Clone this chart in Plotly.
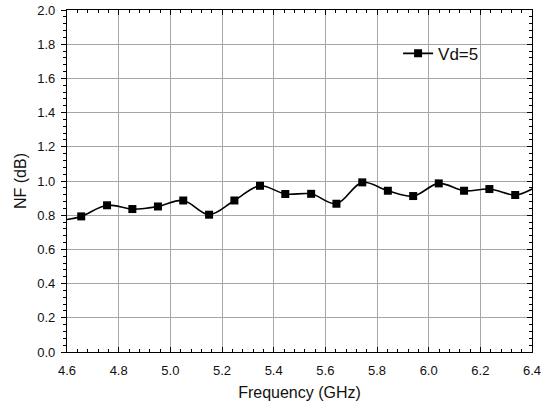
import plotly.graph_objects as go

# Data
freq_markers = [4.655, 4.755, 4.853, 4.952, 5.050, 5.150, 5.248, 5.347, 5.445,
                5.545, 5.643, 5.743, 5.842, 5.940, 6.039, 6.137, 6.235, 6.335]
nf_markers = [0.793, 0.858, 0.836, 0.851, 0.886, 0.803, 0.886, 0.972, 0.924,
              0.925, 0.867, 0.992, 0.943, 0.912, 0.986, 0.943, 0.953, 0.918]
# curve end values at axis edges
freq_start, nf_start = 4.6, 0.775
freq_end, nf_end = 6.4, 0.953

series_name = "Vd=5"
x_title = "Frequency (GHz)"
y_title = "NF (dB)"
x_ticks = [4.6, 4.8, 5.0, 5.2, 5.4, 5.6, 5.8, 6.0, 6.2, 6.4]
y_ticks = [0.0, 0.2, 0.4, 0.6, 0.8, 1.0, 1.2, 1.4, 1.6, 1.8, 2.0]

line_x = [freq_start] + freq_markers + [freq_end]
line_y = [nf_start] + nf_markers + [nf_end]

FONT = "Liberation Sans, Arial, sans-serif"

fig = go.Figure()
fig.add_trace(go.Scatter(x=line_x, y=line_y, mode="lines",
                         line=dict(color="black", width=1.6, shape="spline", smoothing=1.0),
                         showlegend=False, hoverinfo="skip"))
fig.add_trace(go.Scatter(x=freq_markers, y=nf_markers, mode="markers",
                         marker=dict(symbol="square", size=8, color="black"),
                         showlegend=False))
# legend entry
fig.add_trace(go.Scatter(x=[None], y=[None], mode="lines+markers", name=series_name,
                         line=dict(color="black", width=1.6),
                         marker=dict(symbol="square", size=8, color="black")))
# helper trace for mirrored axes
fig.add_trace(go.Scatter(x=freq_markers, y=nf_markers, xaxis="x2", yaxis="y2",
                         mode="markers", marker=dict(opacity=0), showlegend=False,
                         hoverinfo="skip"))

axis_common = dict(showline=True, linecolor="black", linewidth=1.3, automargin=False,
                   zeroline=False, tickcolor="black", tickwidth=1.2)

fig.update_layout(
    width=549, height=411,
    margin=dict(l=67, r=17, t=10, b=58.5),
    paper_bgcolor="white", plot_bgcolor="white",
    font=dict(family=FONT, size=13, color="#111"),
    showlegend=True,
    legend=dict(x=0.712, y=0.872, xanchor="left", yanchor="middle",
                bgcolor="rgba(0,0,0,0)", font=dict(size=17, family=FONT),
                itemwidth=30, tracegroupgap=0),
    xaxis=dict(range=[4.6, 6.4], tickvals=x_ticks, ticktext=[f"{v:.1f}" for v in x_ticks],
               ticks="inside", ticklen=5, showgrid=True, gridcolor="#a6a6a6", gridwidth=1,
               ticklabelstandoff=6,
               minor=dict(ticks="inside", ticklen=3, dtick=0.04, tick0=4.6,
                          tickcolor="black", tickwidth=1, showgrid=False),
               title=dict(text=x_title, font=dict(size=16, family=FONT), standoff=10),
               tickfont=dict(size=13, family=FONT), **axis_common),
    yaxis=dict(range=[0, 2.0], tickvals=y_ticks, ticktext=[f"{v:.1f}" for v in y_ticks],
               ticks="outside", ticklen=5, showgrid=True, gridcolor="#a6a6a6", gridwidth=1,
               ticklabelstandoff=3,
               minor=dict(ticks="outside", ticklen=3, dtick=0.04, tick0=0,
                          tickcolor="black", tickwidth=1, showgrid=False),
               title=dict(text=y_title, font=dict(size=16, family=FONT), standoff=6),
               tickfont=dict(size=13, family=FONT), **axis_common),
    xaxis2=dict(range=[4.6, 6.4], overlaying="x", side="top", tickvals=x_ticks,
                ticks="inside", ticklen=5, showticklabels=False, showgrid=False,
                minor=dict(ticks="inside", ticklen=3, dtick=0.04, tick0=4.6,
                           tickcolor="black", tickwidth=1, showgrid=False),
                **axis_common),
    yaxis2=dict(range=[0, 2.0], overlaying="y", side="right", tickvals=y_ticks,
                ticks="inside", ticklen=5, showticklabels=False, showgrid=False,
                minor=dict(ticks="inside", ticklen=3, dtick=0.04, tick0=0,
                           tickcolor="black", tickwidth=1, showgrid=False),
                **axis_common),
)

fig.write_html("out.html", post_script="document.body.style.margin='0';",
               config={"displayModeBar": False})
